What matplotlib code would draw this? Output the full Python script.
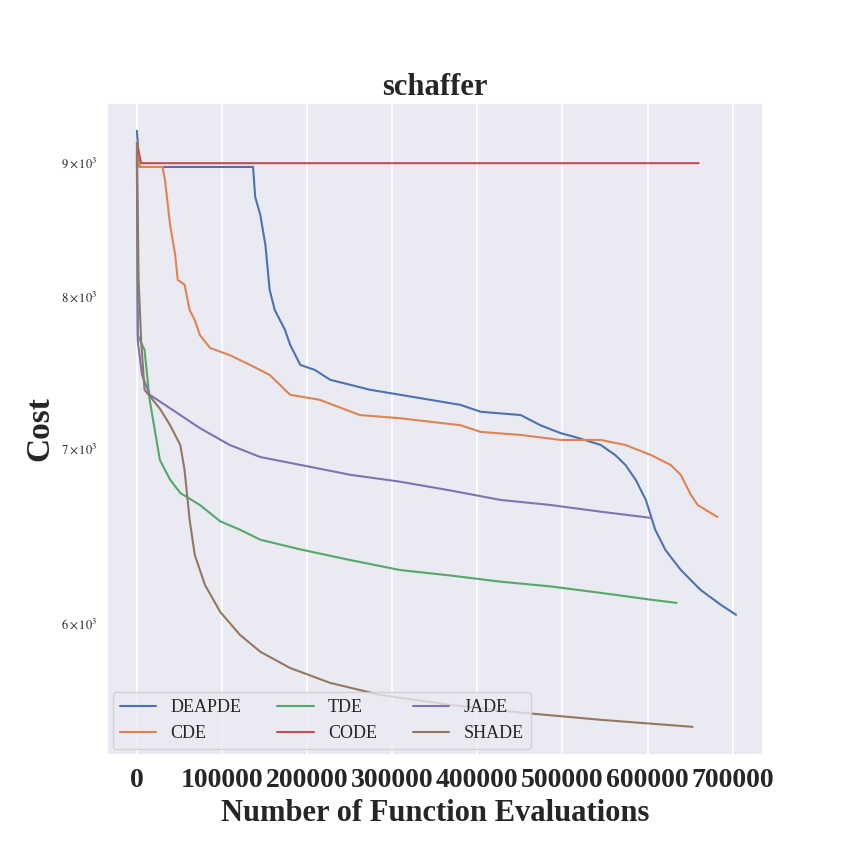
import matplotlib
matplotlib.use("Agg")
import matplotlib.pyplot as plt
import seaborn as sns
from matplotlib.ticker import FixedLocator, NullLocator, FixedFormatter

sns.set_theme(style="darkgrid")
plt.rcParams['font.family'] = ['Liberation Serif', 'DejaVu Serif']
plt.rcParams['mathtext.fontset'] = 'stix'

deapde_x = [0, 3, 8, 136.5, 139, 145, 151, 156, 162, 174, 180, 192, 209, 227, 251, 274, 309, 345, 380, 404, 451, 474, 498, 515, 545, 562, 574, 586, 598, 609, 621, 639, 662, 686, 704]
deapde_y = [9250, 8960, 8960, 8960, 8727, 8590, 8366, 8041, 7900, 7764, 7663, 7528, 7495, 7430, 7397, 7365, 7333, 7300, 7268, 7224, 7203, 7139, 7089, 7065, 7016, 6954, 6894, 6805, 6685, 6512, 6397, 6286, 6177, 6096, 6042]
cde_x = [0, 3, 30, 33, 39, 45, 48, 56, 62, 68, 74, 86, 109, 133, 156, 180, 215, 262, 309, 380, 404, 451, 498, 545, 574, 604, 627, 639, 651, 659, 682]
cde_y = [9150, 8960, 8960, 8859, 8515, 8293, 8113, 8078, 7900, 7831, 7728, 7641, 7593, 7528, 7462, 7333, 7300, 7203, 7183, 7139, 7097, 7078, 7047, 7047, 7016, 6954, 6894, 6834, 6714, 6655, 6585]
code_x = [0, 5, 660]
code_y = [9150, 8990, 8990]
tde_x = [0, 1, 9, 15, 21, 27, 39, 51, 74, 98, 121, 145, 192, 251, 309, 368, 427, 486, 545, 604, 634]
tde_y = [9050, 7728, 7627, 7300, 7110, 6924, 6805, 6726, 6655, 6560, 6512, 6455, 6400, 6340, 6285, 6255, 6221, 6195, 6160, 6123, 6106]
jade_x = [0, 1, 6, 15, 33, 51, 74, 109, 145, 192, 251, 309, 368, 427, 486, 545, 604]
jade_y = [9100, 7690, 7462, 7333, 7268, 7203, 7121, 7016, 6942, 6894, 6834, 6793, 6741, 6685, 6655, 6616, 6580]
shade_x = [0, 2, 5, 9, 27, 39, 51, 56, 62, 68, 80, 98, 121, 145, 180, 227, 286, 368, 451, 545, 653]
shade_y = [9150, 8113, 7690, 7365, 7244, 7139, 7016, 6863, 6568, 6369, 6203, 6057, 5937, 5849, 5766, 5691, 5631, 5582, 5544, 5509, 5475]

series = [("DEAPDE", deapde_x, deapde_y), ("CDE", cde_x, cde_y), ("TDE", tde_x, tde_y),
          ("CODE", code_x, code_y), ("JADE", jade_x, jade_y), ("SHADE", shade_x, shade_y)]
colors = sns.color_palette("deep")

fig = plt.figure(figsize=(8.5, 8.5), dpi=100)
ax = fig.add_axes([0.126, 0.112, 0.772, 0.767])
for i, (name, xs, ys) in enumerate(series):
    ax.plot([x * 1000 for x in xs], ys, color=colors[i], lw=1.5, label=name)

ax.set_yscale('log')
ax.set_ylim(5342, 9480)
ax.set_xlim(-35000, 736000)
ax.yaxis.set_major_locator(NullLocator())
ax.yaxis.set_minor_locator(FixedLocator([6000, 7000, 8000, 9000]))
ax.yaxis.set_minor_formatter(FixedFormatter([r'$6\times10^{3}$', r'$7\times10^{3}$', r'$8\times10^{3}$', r'$9\times10^{3}$']))
ax.tick_params(axis='y', which='minor', labelsize=9)
ax.set_xticks(range(0, 700001, 100000))
ax.set_xticklabels([str(v) for v in range(0, 700001, 100000)], fontsize=20, fontweight='bold')
ax.grid(True, axis='x', color='white', lw=1.2)
ax.grid(False, axis='y')
ax.set_title('schaffer', fontsize=22, fontweight='bold')
ax.set_xlabel('Number of Function Evaluations', fontsize=22, fontweight='bold')
ax.set_ylabel('Cost', fontsize=24, fontweight='bold')
ax.legend(loc='lower left', ncol=3, fontsize=13, framealpha=0.8, borderaxespad=0.3)
fig.savefig('out.png', dpi=100)
